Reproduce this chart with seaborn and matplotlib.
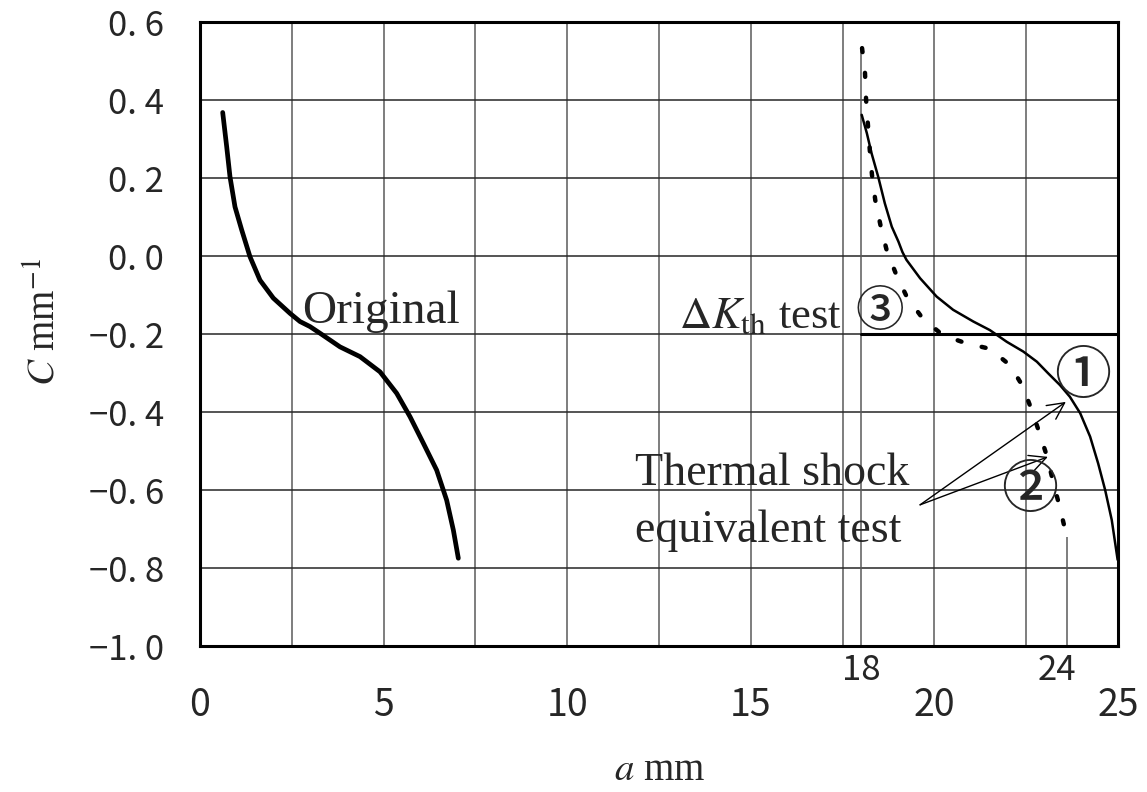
import matplotlib
matplotlib.use("Agg")
import matplotlib.pyplot as plt
import seaborn as sns
import pandas as pd

# ---------------- data ----------------
orig_a = [0.618, 0.727, 0.817, 0.953, 1.135, 1.362, 1.634, 1.997, 2.451, 2.723, 2.996, 3.268, 3.813,
          4.357, 4.902, 5.356, 5.719, 6.082, 6.445, 6.717, 6.9, 7.035]
orig_c = [0.368, 0.280, 0.203, 0.126, 0.067, -0.002, -0.062, -0.108, -0.147, -0.168, -0.181, -0.198,
          -0.233, -0.258, -0.297, -0.352, -0.412, -0.48, -0.549, -0.626, -0.703, -0.775]

ts1_a = [18.02, 18.16, 18.29, 18.47, 18.65, 18.84, 19.02, 19.13, 19.24, 19.61, 20.06, 20.51, 21.06,
         21.51, 21.97, 22.42, 22.79, 23.1, 23.42, 23.69, 23.97, 24.24, 24.46, 24.65, 24.83, 24.99]
ts1_c = [0.362, 0.315, 0.263, 0.203, 0.135, 0.075, 0.037, 0.01, -0.010, -0.057, -0.104, -0.138, -0.168,
         -0.19, -0.22, -0.245, -0.271, -0.301, -0.331, -0.361, -0.403, -0.463, -0.532, -0.6, -0.677, -0.779]

ts2_a = [18.03, 18.11, 18.14, 18.19, 18.24, 18.3, 18.39, 18.54, 18.7, 18.97, 19.25, 19.68, 20.23,
         20.84, 21.51, 22.06, 22.4, 22.65, 22.88, 23.08, 23.24, 23.42, 23.58]
ts2_c = [0.533, 0.469, 0.40, 0.336, 0.272, 0.208, 0.143, 0.075, 0.015, -0.05, -0.105, -0.16, -0.203,
         -0.223, -0.238, -0.28, -0.333, -0.395, -0.459, -0.518, -0.582, -0.646, -0.71]

dkth_a = [18.0, 25.0]
dkth_c = [-0.2, -0.2]

x_ticks = [0, 5, 10, 15, 20, 25]
x_minor = [2.5, 7.5, 12.5, 17.5, 22.5]
y_ticks = [-1.0, -0.8, -0.6, -0.4, -0.2, 0.0, 0.2, 0.4, 0.6]
extra_x_labels = ["18", "24"]
extra_x_pos = [18.0, 23.6]

# ---------------- style ----------------
sns.set_style("white")
plt.rcParams["font.family"] = ["Liberation Serif", "DejaVu Serif"]
plt.rcParams["mathtext.fontset"] = "stix"

fig = plt.figure(figsize=(11.47, 7.92), dpi=100)
ax = fig.add_axes([200 / 1147, 1 - 646 / 792, 918 / 1147, 624 / 792])

ax.set_xlim(0, 25)
ax.set_ylim(-1.0, 0.6)

# grid
ax.set_xticks(x_ticks)
ax.set_xticks(x_minor, minor=True)
ax.set_yticks(y_ticks)
ax.grid(False)
for xv in x_ticks + x_minor:
    ax.axvline(xv, color="#5a5a5a", lw=1.1, zorder=1)
for yv in y_ticks:
    ax.axhline(yv, color="#262626", lw=1.1, zorder=1)
# partial vertical lines at 18 and 24
ax.vlines(extra_x_pos[0], -1.0, 0.53, color="#5a5a5a", lw=1.1, zorder=1)
ax.vlines(extra_x_pos[1], -1.0, -0.72, color="#5a5a5a", lw=1.1, zorder=1)

# curves
df_o = pd.DataFrame({"a": orig_a, "c": orig_c})
df_1 = pd.DataFrame({"a": ts1_a, "c": ts1_c})
df_2 = pd.DataFrame({"a": ts2_a, "c": ts2_c})
df_k = pd.DataFrame({"a": dkth_a, "c": dkth_c})

sns.lineplot(data=df_o, x="a", y="c", sort=False, color="black", lw=3.4, ax=ax, zorder=3,
             solid_capstyle="round", solid_joinstyle="round")
sns.lineplot(data=df_1, x="a", y="c", sort=False, color="black", lw=1.8, ax=ax, zorder=3,
             solid_joinstyle="round")
sns.lineplot(data=df_2, x="a", y="c", sort=False, color="black", lw=3.2, ax=ax, zorder=3,
             linestyle=(0, (0.9, 4.7)), dash_capstyle="round")
sns.lineplot(data=df_k, x="a", y="c", sort=False, color="black", lw=2.2, ax=ax, zorder=3)

# spines
for s in ax.spines.values():
    s.set_visible(True)
    s.set_color("black")
    s.set_linewidth(2.2)

# tick labels
tick_font = "Noto Sans CJK JP"
ax.tick_params(axis="both", which="both", length=0)
ax.tick_params(axis="x", pad=29)
ax.tick_params(axis="y", pad=26)
ax.set_xticklabels([str(v) for v in x_ticks], fontfamily=tick_font, fontsize=27)
ax.set_yticklabels([f"{v:.1f}".replace("-", "\u2212").replace(".", ". ") for v in y_ticks],
                   fontfamily=tick_font, fontsize=25)
ax.set_xlabel("")
ax.set_ylabel("")

# extra x tick labels 18, 24
for lab, xv, dx in zip(extra_x_labels, extra_x_pos, [0, -0.25]):
    ax.annotate(lab, xy=(xv + dx, -1.0), xytext=(0, -5), textcoords="offset points",
                ha="center", va="top", fontfamily=tick_font, fontsize=25)

# axis labels
fig.text(660 / 1147, 1 - 770 / 792, r"$a$ mm", ha="center", va="center", fontsize=28)
fig.text(45 / 1147, 1 - 322 / 792, r"$C$ mm$^{-1}$", ha="center", va="center", rotation=90, fontsize=28)

# annotations
ax.text(2.78, -0.172, "Original", ha="left", va="baseline", fontsize=34, zorder=4)
ax.text(13.05, -0.185, r"$\Delta K_{\mathrm{th}}$ test", ha="left", va="baseline", fontsize=32, zorder=4)
ax.text(11.85, -0.587, "Thermal shock", ha="left", va="baseline", fontsize=33, zorder=4)
ax.text(11.85, -0.733, "equivalent test", ha="left", va="baseline", fontsize=33, zorder=4)

circ_font = "Noto Sans CJK JP"
ax.text(18.52, -0.144, "\u2462", ha="center", va="center", fontfamily=circ_font, fontsize=35,
        fontweight="medium", zorder=4)
ax.text(24.05, -0.31, "\u2460", ha="center", va="center", fontfamily=circ_font, fontsize=41,
        fontweight="medium", zorder=4)
ax.text(22.58, -0.603, "\u2461", ha="center", va="center", fontfamily=circ_font, fontsize=41,
        fontweight="medium", zorder=4)

arrow_kw = dict(arrowstyle="->", color="black", lw=1.0, mutation_scale=30, shrinkA=0, shrinkB=0)
ax.annotate("", xy=(23.58, -0.374), xytext=(19.61, -0.638), arrowprops=arrow_kw)
ax.annotate("", xy=(23.09, -0.515), xytext=(19.61, -0.638), arrowprops=arrow_kw)

fig.savefig("out.png", dpi=100, facecolor="white")
